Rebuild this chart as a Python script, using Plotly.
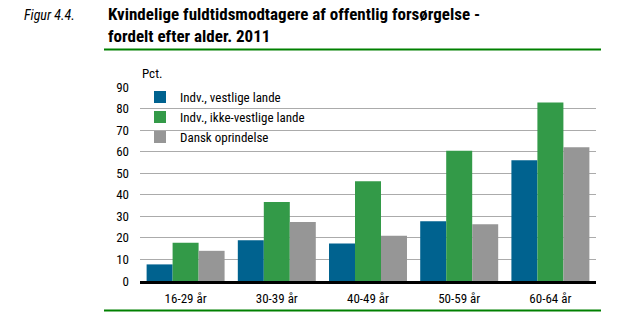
import plotly.graph_objects as go

categories = ["16-29 år", "30-39 år", "40-49 år", "50-59 år", "60-64 år"]
vestlige = [7.7, 18.9, 17.4, 27.7, 56.0]
ikke_vestlige = [17.7, 36.7, 46.3, 60.4, 82.8]
dansk = [14.0, 27.4, 21.0, 26.3, 62.0]
series_names = ["Indv., vestlige lande", "Indv., ikke-vestlige lande", "Dansk oprindelse"]
colors = ["#00628F", "#339A48", "#969696"]
y_ticks = [0, 10, 20, 30, 40, 50, 60, 70, 80, 90]

FONT = "Roboto Condensed, Noto Sans Condensed, Liberation Sans Narrow, DejaVu Sans Condensed, sans-serif"

fig = go.Figure()
for name, vals, col in zip(series_names, [vestlige, ikke_vestlige, dansk], colors):
    fig.add_trace(go.Bar(x=categories, y=vals, name=name, marker=dict(color=col, line=dict(width=0))))

W, H = 642, 331
L, R, T, B = 140, 46, 87, 50
pw, ph = W - L - R, H - T - B

def px(x):
    return (x - L) / pw

def py(y):
    return (H - B - y) / ph

fig.update_layout(
    width=W, height=H,
    margin=dict(l=L, r=R, t=T, b=B, pad=0),
    paper_bgcolor="white", plot_bgcolor="white",
    barmode="group", bargap=0.145, bargroupgap=0,
    font=dict(family=FONT, size=13, color="black"),
    showlegend=True,
    legend=dict(x=0.0, y=1.025, xanchor="left", yanchor="top", bgcolor="rgba(0,0,0,0)",
                font=dict(size=13), tracegroupgap=0, itemsizing="constant"),
    xaxis=dict(showgrid=False, showline=True, linecolor="black", linewidth=2.5,
               ticks="", ticklabelstandoff=4, tickfont=dict(size=13)),
    yaxis=dict(range=[0, 90], tickvals=y_ticks, showgrid=True, gridcolor="#ABABAB", gridwidth=1.2,
               zeroline=False, showline=False, ticks="", ticklabelstandoff=10, tickfont=dict(size=13)),
)

fig.add_annotation(x=px(22), y=py(15), xref="paper", yref="paper", xanchor="left", yanchor="middle",
                   text="<i>Figur 4.4.</i>", showarrow=False,
                   font=dict(family=FONT, size=14, color="black"))
fig.add_annotation(x=px(106), y=py(24.5), xref="paper", yref="paper", xanchor="left", yanchor="middle",
                   align="left",
                   text="<b>Kvindelige fuldtidsmodtagere af offentlig forsørgelse -<br>fordelt efter alder. 2011</b>",
                   showarrow=False, font=dict(family=FONT, size=17, color="black"))
fig.add_annotation(x=px(140), y=py(73), xref="paper", yref="paper", xanchor="left", yanchor="middle",
                   text="Pct.", showarrow=False, font=dict(family=FONT, size=13, color="black"))

for yy in (49.5, 310.5):
    fig.add_shape(type="line", xref="paper", yref="paper", x0=px(104), x1=px(601), y0=py(yy), y1=py(yy),
                  line=dict(color="#008000", width=2))

fig.write_html("out.html")
